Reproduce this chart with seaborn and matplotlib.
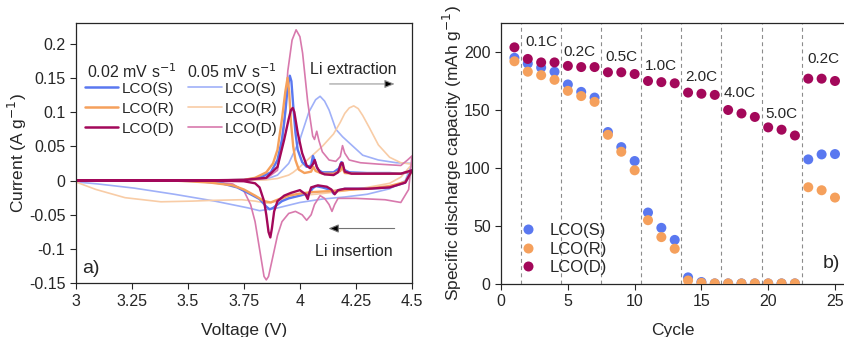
import numpy as np
import pandas as pd
import matplotlib
matplotlib.use("Agg")
import matplotlib.pyplot as plt
import seaborn as sns

# ---- panel a) cyclic voltammetry (V, A/g) ----
# each loop: anodic sweep up to 4.5 V, then cathodic sweep back down
s02_v = [3.43, 3.6, 3.75, 3.82, 3.87, 3.9, 3.92, 3.935, 3.945, 3.955, 3.962, 3.97, 3.98, 3.99, 4.01, 4.03,
         4.05, 4.058, 4.065, 4.08, 4.1, 4.15, 4.175, 4.185, 4.195, 4.22, 4.3, 4.4, 4.45, 4.48, 4.5,
         4.5, 4.47, 4.4, 4.3, 4.2, 4.16, 4.15, 4.14, 4.1, 4.07, 4.055, 4.04, 4.02, 4.0, 3.95, 3.92, 3.9,
         3.88, 3.865, 3.85, 3.82, 3.78, 3.72, 3.65, 3.55, 3.43]
s02_i = [0, 0, 0.001, 0.004, 0.012, 0.03, 0.06, 0.1, 0.135, 0.153, 0.145, 0.11, 0.07, 0.045, 0.027, 0.02,
         0.022, 0.036, 0.03, 0.016, 0.012, 0.012, 0.018, 0.027, 0.016, 0.012, 0.011, 0.011, 0.01, 0.012, 0.015,
         0.015, -0.003, -0.01, -0.012, -0.012, -0.015, -0.019, -0.014, -0.01, -0.008, -0.012, -0.02, -0.02,
         -0.022, -0.026, -0.03, -0.035, -0.04, -0.042, -0.038, -0.027, -0.02, -0.01, -0.004, -0.001, 0]

r02_v = [3.43, 3.6, 3.75, 3.8, 3.85, 3.88, 3.9, 3.92, 3.935, 3.945, 3.952, 3.96, 3.97, 3.98, 3.995, 4.02,
         4.05, 4.06, 4.07, 4.1, 4.15, 4.18, 4.188, 4.2, 4.25, 4.35, 4.45, 4.5,
         4.5, 4.47, 4.4, 4.3, 4.2, 4.1, 4.05, 4.0, 3.95, 3.9, 3.87, 3.84, 3.8, 3.75, 3.7, 3.6, 3.5, 3.43]
r02_i = [0, 0, 0.001, 0.004, 0.012, 0.025, 0.045, 0.09, 0.13, 0.15, 0.13, 0.085, 0.05, 0.03, 0.016, 0.011,
         0.013, 0.02, 0.014, 0.01, 0.01, 0.014, 0.02, 0.011, 0.01, 0.01, 0.01, 0.014,
         0.014, -0.002, -0.008, -0.012, -0.014, -0.016, -0.017, -0.019, -0.022, -0.028, -0.032, -0.03,
         -0.022, -0.013, -0.007, -0.003, -0.001, 0]

d02_v = [3.0, 3.5, 3.75, 3.85, 3.9, 3.93, 3.95, 3.96, 3.968, 3.975, 3.99, 4.01, 4.03, 4.045, 4.058, 4.066,
         4.075, 4.09, 4.11, 4.15, 4.17, 4.183, 4.19, 4.2, 4.23, 4.3, 4.4, 4.45, 4.5,
         4.5, 4.47, 4.4, 4.3, 4.2, 4.17, 4.155, 4.14, 4.12, 4.08, 4.05, 4.04, 4.035, 4.025, 4.0, 3.96, 3.93,
         3.9, 3.885, 3.875, 3.868, 3.86, 3.85, 3.84, 3.82, 3.8, 3.75, 3.6, 3.0]
d02_i = [0, 0, 0.001, 0.004, 0.02, 0.06, 0.09, 0.103, 0.106, 0.1, 0.07, 0.04, 0.022, 0.018, 0.024, 0.03,
         0.02, 0.012, 0.009, 0.008, 0.012, 0.025, 0.026, 0.013, 0.01, 0.01, 0.01, 0.01, 0.015,
         0.015, -0.003, -0.01, -0.012, -0.012, -0.014, -0.02, -0.013, -0.009, -0.007, -0.01, -0.02, -0.027,
         -0.02, -0.014, -0.018, -0.022, -0.03, -0.045, -0.07, -0.083, -0.075, -0.05, -0.03, -0.01, -0.004,
         -0.001, 0, 0]

s05_v = [3.0, 3.75, 3.85, 3.9, 3.95, 4.0, 4.04, 4.07, 4.09, 4.11, 4.13, 4.16, 4.19, 4.22, 4.28, 4.35, 4.43, 4.5,
         4.5, 4.47, 4.4, 4.3, 4.2, 4.1, 4.0, 3.9, 3.82, 3.77, 3.62, 3.44, 3.26, 3.1, 3.0]
s05_i = [0, 0, 0.002, 0.008, 0.025, 0.06, 0.1, 0.118, 0.123, 0.116, 0.103, 0.075, 0.064, 0.055, 0.037, 0.03, 0.026, 0.025,
         0.025, 0.0, -0.012, -0.02, -0.024, -0.027, -0.032, -0.04, -0.044, -0.04, -0.03, -0.02, -0.011, -0.005, -0.002]

r05_v = [3.0, 3.75, 3.85, 3.9, 3.95, 3.97, 4.0, 4.05, 4.1, 4.15, 4.18, 4.2, 4.22, 4.24, 4.26, 4.28, 4.31, 4.35,
         4.4, 4.45, 4.5,
         4.5, 4.45, 4.4, 4.3, 4.2, 4.1, 4.0, 3.95, 3.9, 3.85, 3.8, 3.74, 3.6, 3.52, 3.38, 3.22, 3.09, 3.0]
r05_i = [0, 0, 0.001, 0.003, 0.008, 0.012, 0.02, 0.035, 0.05, 0.068, 0.085, 0.098, 0.106, 0.109, 0.105, 0.095,
         0.077, 0.052, 0.034, 0.026, 0.024,
         0.024, 0.005, -0.004, -0.01, -0.015, -0.019, -0.022, -0.025, -0.03, -0.033, -0.03, -0.028, -0.029,
         -0.03, -0.031, -0.025, -0.013, -0.002]

d05_v = [3.0, 3.75, 3.85, 3.9, 3.93, 3.946, 3.965, 3.983, 4.0, 4.012, 4.035, 4.057, 4.065, 4.075, 4.085,
         4.1, 4.13, 4.16, 4.18, 4.19, 4.2, 4.22, 4.27, 4.35, 4.45, 4.48, 4.5,
         4.5, 4.485, 4.45, 4.38, 4.25, 4.17, 4.155, 4.143, 4.13, 4.11, 4.09, 4.065, 4.05, 4.03, 4.01, 3.98,
         3.95, 3.92, 3.9, 3.88, 3.86, 3.85, 3.84, 3.82, 3.8, 3.78, 3.75, 3.7, 3.6, 3.0]
d05_i = [0, 0, 0.003, 0.015, 0.08, 0.16, 0.205, 0.22, 0.21, 0.186, 0.114, 0.065, 0.06, 0.072, 0.058,
         0.042, 0.03, 0.028, 0.035, 0.051, 0.04, 0.03, 0.026, 0.024, 0.022, 0.03, 0.036,
         0.036, -0.013, -0.032, -0.028, -0.026, -0.026, -0.035, -0.045, -0.035, -0.026, -0.022, -0.035,
         -0.05, -0.058, -0.05, -0.045, -0.048, -0.06, -0.08, -0.11, -0.14, -0.145, -0.14, -0.1, -0.06,
         -0.035, -0.015, -0.005, -0.001, 0]

# ---- panel b) rate capability ----
cycles = list(range(1, 26))
cap_s = [195, 190, 186.5, 183, 172, 165.6, 160.7, 131, 118, 106, 61.6, 48.4, 38, 5.7, 1.7,
         0.5, 0.5, 0.5, 0.5, 0.5, 0.5, 0.5, 107.4, 111.7, 112]
cap_r = [192, 183, 180, 176, 166.5, 162, 157, 128.6, 114, 98, 55, 40.4, 30.4, 3, 1,
         0.5, 0.5, 0.5, 0.5, 0.5, 0.5, 0.5, 83.4, 80.8, 74.5]
cap_d = [204, 194, 191, 191, 188, 187, 187, 182.5, 182.5, 181, 175, 174, 173, 165, 164, 163,
         150, 147, 144, 135, 133, 128, 177, 177, 175]
rate_names = ["0.1C", "0.2C", "0.5C", "1.0C", "2.0C", "4.0C", "5.0C", "0.2C"]
rate_x = [3.0, 5.9, 9.0, 12.0, 15.0, 17.9, 21.0, 24.1]
rate_y = [209, 200, 196, 188, 178.7, 165, 146.5, 194]
step_edges = [1.5, 4.5, 7.5, 10.5, 13.5, 16.5, 19.5, 22.5]

labels = ["LCO(S)", "LCO(R)", "LCO(D)"]
colors = ["#5a78f0", "#f5a05c", "#a3085a"]
light = ["#9fb0f8", "#f8cca6", "#d879ad"]

sns.set_style("ticks")
plt.rcParams["font.family"] = ["Liberation Sans", "DejaVu Sans"]
plt.rcParams["xtick.direction"] = "out"
plt.rcParams["ytick.direction"] = "out"

fig = plt.figure(figsize=(8.45, 3.37), dpi=100)
ax1 = fig.add_axes([0.0896, 0.1593, 0.398, 0.7725])
ax2 = fig.add_axes([0.593, 0.1573, 0.407, 0.7745])

# panel a
thick = [(s02_v, s02_i), (r02_v, r02_i), (d02_v, d02_i)]
thin = [(s05_v, s05_i), (r05_v, r05_i), (d05_v, d05_i)]
for (v, i), c in zip(thin, light):
    sns.lineplot(x=v, y=i, sort=False, estimator=None, ax=ax1, color=c, lw=1.2)
for (v, i), c in zip(thick, colors):
    sns.lineplot(x=v, y=i, sort=False, estimator=None, ax=ax1, color=c, lw=1.7)
hs = [plt.Line2D([], [], color=c, lw=1.8) for c in colors] + \
     [plt.Line2D([], [], color=c, lw=1.2) for c in light]
ax1.legend(hs, labels + labels, ncol=2, frameon=False, fontsize=11,
           loc="upper left", bbox_to_anchor=(0.0, 0.81), handlelength=2.2,
           handletextpad=0.2, columnspacing=0.9, labelspacing=0.4, borderaxespad=0.2)
ax1.text(0.033, 0.79, "0.02 mV s$^{-1}$", transform=ax1.transAxes, fontsize=11.5, va="baseline")
ax1.text(0.33, 0.79, "0.05 mV s$^{-1}$", transform=ax1.transAxes, fontsize=11.5, va="baseline")

ax1.text(4.24, 0.162, "Li extraction", fontsize=11.5, ha="center", va="center")
ax1.annotate("", xy=(4.435, 0.141), xytext=(4.12, 0.141),
             arrowprops=dict(arrowstyle="-|>,head_length=0.6,head_width=0.25", fc="black", ec="0.6", lw=0.8))
ax1.text(4.24, -0.104, "Li insertion", fontsize=11.5, ha="center", va="center")
ax1.annotate("", xy=(4.115, -0.07), xytext=(4.435, -0.07),
             arrowprops=dict(arrowstyle="-|>,head_length=0.6,head_width=0.25", fc="black", ec="0.45", lw=0.8))
ax1.text(3.03, -0.128, "a)", fontsize=14, ha="left", va="center")

ax1.set_xlim(3, 4.5)
ax1.set_ylim(-0.15, 0.23)
ax1.set_xticks([3, 3.25, 3.5, 3.75, 4, 4.25, 4.5])
ax1.set_xticklabels(["3", "3.25", "3.5", "3.75", "4", "4.25", "4.5"])
ax1.set_yticks([-0.15, -0.1, -0.05, 0, 0.05, 0.1, 0.15, 0.2])
ax1.set_yticklabels(["-0.15", "-0.1", "-0.05", "0", "0.05", "0.1", "0.15", "0.2"])
ax1.tick_params(labelsize=11.5, length=4, width=0.8)
ax1.set_xlabel("Voltage (V)", fontsize=12.5, labelpad=10)
ax1.set_ylabel("Current (A g$^{-1}$)", fontsize=12.5, labelpad=0)
for sp in ax1.spines.values():
    sp.set_linewidth(0.9)

# panel b
df = pd.DataFrame({
    "cycle": cycles * 3,
    "capacity": cap_s + cap_r + cap_d,
    "sample": [labels[0]] * 25 + [labels[1]] * 25 + [labels[2]] * 25,
})
for xe in step_edges:
    ax2.axvline(xe, color="0.55", lw=0.8, ls=(0, (3.5, 3)), zorder=0)
sns.scatterplot(data=df, x="cycle", y="capacity", hue="sample", palette=colors,
                s=52, edgecolor="none", ax=ax2, zorder=3)
for name, x, y in zip(rate_names, rate_x, rate_y):
    ax2.text(x, y, name, fontsize=11, ha="center", va="center")
ax2.legend(frameon=False, fontsize=12, loc="lower left", bbox_to_anchor=(0.01, -0.023),
           handlelength=1.0, handletextpad=0.8, labelspacing=0.2, markerscale=1.0)
ax2.text(25.4, 18, "b)", fontsize=14, ha="right", va="center")
ax2.set_xlim(0, 25.75)
ax2.set_ylim(0, 225)
ax2.set_xticks([0, 5, 10, 15, 20, 25])
ax2.set_yticks([0, 50, 100, 150, 200])
ax2.tick_params(labelsize=11.5, length=4, width=0.8)
ax2.set_xlabel("Cycle", fontsize=12.5, labelpad=10)
ax2.set_ylabel("Specific discharge capacity (mAh g$^{-1}$)", fontsize=12.5, labelpad=0)
for sp in ax2.spines.values():
    sp.set_linewidth(0.9)

fig.savefig("out.png", dpi=100)
